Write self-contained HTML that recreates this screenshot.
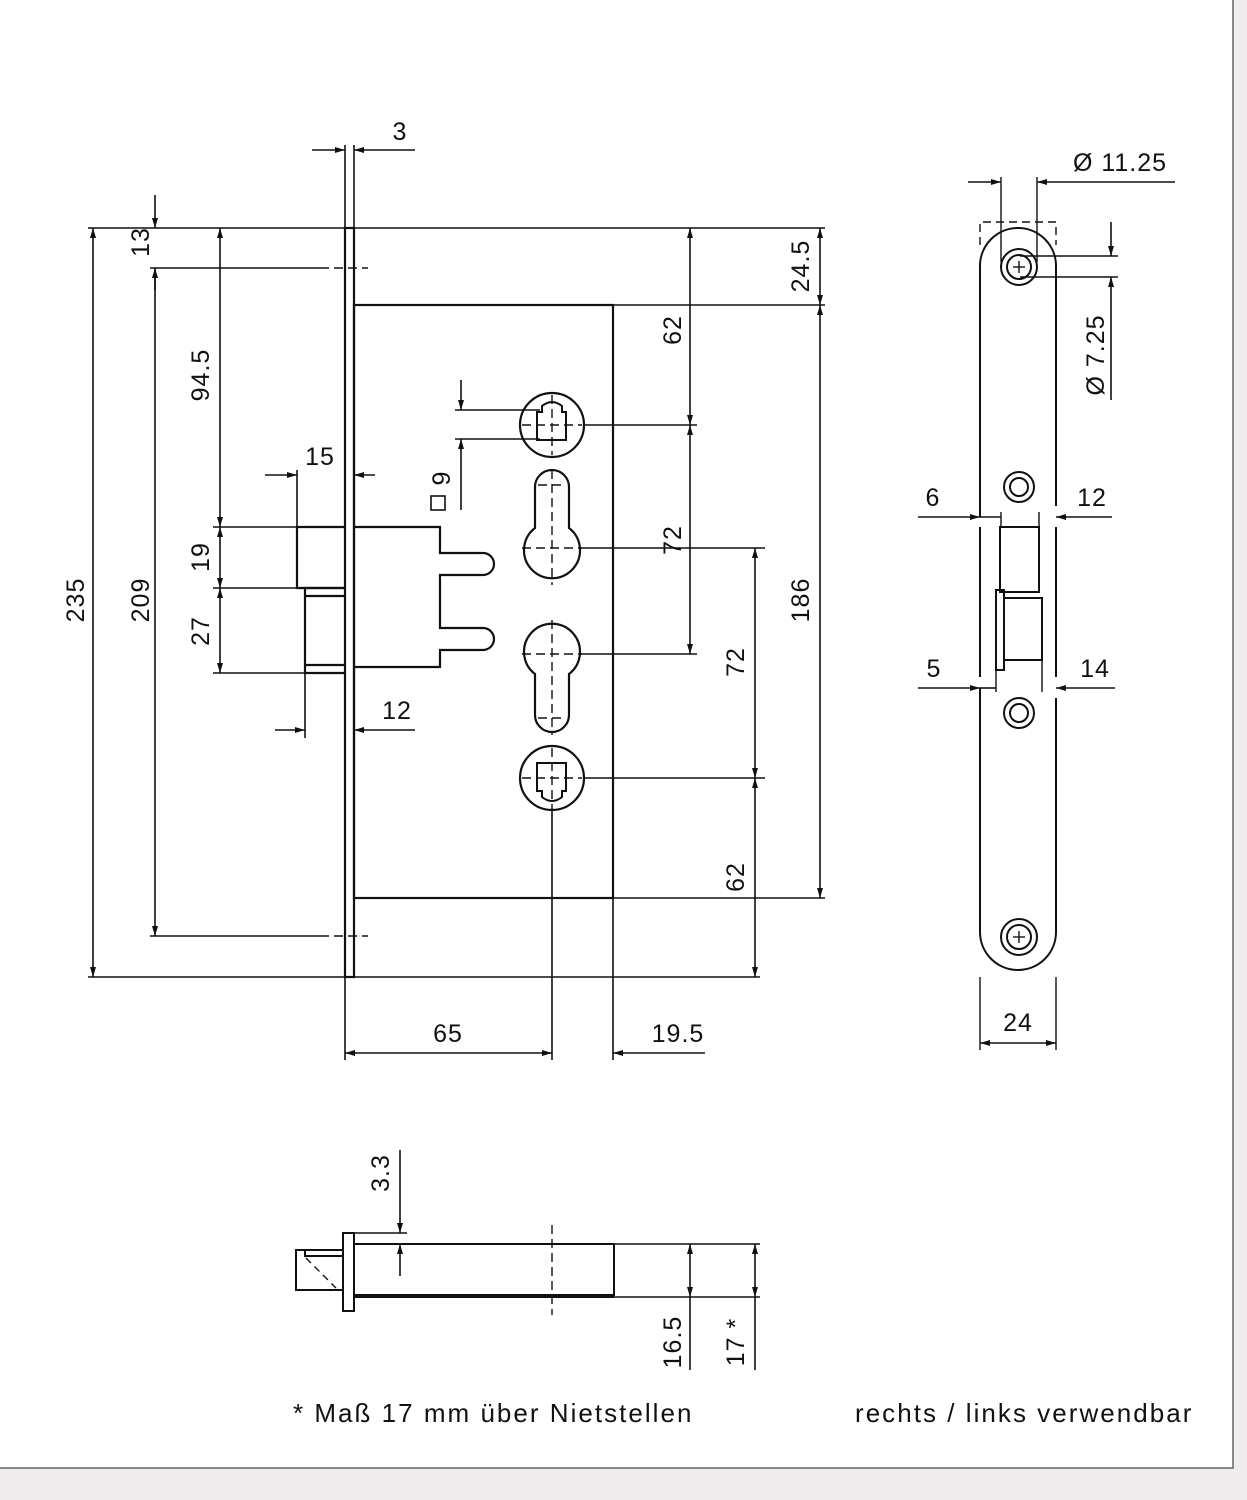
<!DOCTYPE html>
<html><head><meta charset="utf-8"><style>
html,body{margin:0;padding:0;background:#eeeced;}
svg{display:block}
text{font-family:"Liberation Sans",sans-serif;fill:#111;font-size:25px;letter-spacing:1px}
</style></head><body>
<svg width="1247" height="1500" viewBox="0 0 1247 1500" xmlns="http://www.w3.org/2000/svg">
<defs>
<marker id="a" viewBox="0 0 10 6" refX="10" refY="3" markerWidth="10" markerHeight="6" markerUnits="userSpaceOnUse" orient="auto-start-reverse"><path d="M0,0L10,3L0,6z" fill="#111"/></marker>
</defs>
<rect x="0" y="0" width="1233" height="1468" fill="#fff"/>
<path d="M1233,0V1468H0" fill="none" stroke="#888" stroke-width="2"/>
<g stroke="#111" stroke-width="1.6" fill="none">
<rect x="345" y="228" width="9" height="749" stroke-width="2.2"/>
<rect x="354" y="305" width="259" height="593" stroke-width="2.2"/>
<path d="M345,527H297V588H345" stroke-width="2.2"/>
<path d="M345,588H305V673H345M305,596H345M305,665H345" stroke-width="2.2"/>
<path d="M354,527H440V553H483A11,11 0 0 1 483,575H440V628H483A11,11 0 0 1 483,650H440V667H354" stroke-width="2.2"/>
<circle cx="552" cy="425" r="32" stroke-width="2.2"/>
<path d="M537,440V412H542V406Q552,398 562,406V412H566V440Z" stroke-width="2"/>
<circle cx="552" cy="778" r="32" stroke-width="2.2"/>
<path d="M537,763V791H542V797Q552,805 562,797V791H566V763Z" stroke-width="2"/>
<path d="M535,487V528A28,28 0 1 0 569,528V487A17,17 0 0 0 535,487Z" stroke-width="2.2"/>
<path d="M535,715V674A28,28 0 1 1 569,674V715A17,17 0 0 1 535,715Z" stroke-width="2.2"/>
<g stroke-dasharray="9,5" stroke-width="1.4">
<line x1="552" y1="395" x2="552" y2="455"/><line x1="522" y1="425" x2="582" y2="425"/>
<line x1="552" y1="470" x2="552" y2="585"/><line x1="522" y1="548" x2="582" y2="548"/><line x1="538" y1="485" x2="566" y2="485"/>
<line x1="552" y1="620" x2="552" y2="735"/><line x1="522" y1="654" x2="582" y2="654"/><line x1="538" y1="718" x2="566" y2="718"/>
<line x1="552" y1="748" x2="552" y2="808"/><line x1="522" y1="778" x2="582" y2="778"/>
<line x1="320" y1="268" x2="368" y2="268"/><line x1="320" y1="936" x2="368" y2="936"/>
</g>
<line x1="88" y1="228" x2="345" y2="228"/><line x1="354" y1="228" x2="825" y2="228"/>
<line x1="88" y1="977" x2="345" y2="977"/><line x1="354" y1="977" x2="760" y2="977"/>
<line x1="150" y1="268" x2="320" y2="268"/><line x1="150" y1="936" x2="320" y2="936"/>
<line x1="213" y1="527" x2="297" y2="527"/><line x1="213" y1="588" x2="305" y2="588"/><line x1="213" y1="673" x2="305" y2="673"/>
<line x1="613" y1="305" x2="825" y2="305"/><line x1="613" y1="898" x2="825" y2="898"/>
<line x1="584" y1="425" x2="697" y2="425"/><line x1="580" y1="548" x2="765" y2="548"/><line x1="580" y1="654" x2="697" y2="654"/><line x1="584" y1="778" x2="765" y2="778"/>
<line x1="455" y1="410" x2="540" y2="410"/><line x1="455" y1="439" x2="540" y2="439"/>
<line x1="345" y1="145" x2="345" y2="228"/><line x1="354" y1="145" x2="354" y2="228"/>
<line x1="297" y1="470" x2="297" y2="527"/><line x1="305" y1="673" x2="305" y2="738"/>
<line x1="345" y1="977" x2="345" y2="1060"/><line x1="552" y1="808" x2="552" y2="1060"/><line x1="613" y1="898" x2="613" y2="1060"/>
</g>
<g stroke="#111" stroke-width="1.6" fill="none" marker-end="url(#a)">
<line x1="93" y1="600" x2="93" y2="228"/><line x1="93" y1="600" x2="93" y2="977"/>
<line x1="155" y1="600" x2="155" y2="268"/><line x1="155" y1="600" x2="155" y2="936"/>
<line x1="155" y1="195" x2="155" y2="228"/>
<line x1="220" y1="380" x2="220" y2="228"/><line x1="220" y1="380" x2="220" y2="527"/>
<line x1="220" y1="557" x2="220" y2="527"/><line x1="220" y1="557" x2="220" y2="588"/>
<line x1="220" y1="630" x2="220" y2="588"/><line x1="220" y1="630" x2="220" y2="673"/>
<line x1="312" y1="150" x2="345" y2="150"/><line x1="415" y1="150" x2="354" y2="150"/>
<line x1="265" y1="475" x2="297" y2="475"/><line x1="375" y1="475" x2="354" y2="475"/>
<line x1="275" y1="730" x2="305" y2="730"/><line x1="415" y1="730" x2="354" y2="730"/>
<line x1="461" y1="380" x2="461" y2="410"/><line x1="461" y1="510" x2="461" y2="439"/>
<line x1="690" y1="330" x2="690" y2="228"/><line x1="690" y1="330" x2="690" y2="425"/>
<line x1="690" y1="540" x2="690" y2="425"/><line x1="690" y1="540" x2="690" y2="654"/>
<line x1="755" y1="660" x2="755" y2="548"/><line x1="755" y1="660" x2="755" y2="778"/>
<line x1="755" y1="877" x2="755" y2="778"/><line x1="755" y1="877" x2="755" y2="977"/>
<line x1="820" y1="266" x2="820" y2="228"/><line x1="820" y1="266" x2="820" y2="305"/>
<line x1="820" y1="600" x2="820" y2="305"/><line x1="820" y1="600" x2="820" y2="898"/>
<line x1="448" y1="1053" x2="345" y2="1053"/><line x1="448" y1="1053" x2="552" y2="1053"/>
<line x1="705" y1="1053" x2="613" y2="1053"/>
</g>
<line x1="155" y1="268" x2="155" y2="290" stroke="#111" stroke-width="1.6"/>
<rect x="431" y="496" width="14" height="14" fill="none" stroke="#111" stroke-width="1.6"/>
<text x="75" y="600" transform="rotate(-90 75 600)" text-anchor="middle" dy="9">235</text>
<text x="140" y="600" transform="rotate(-90 140 600)" text-anchor="middle" dy="9">209</text>
<text x="140" y="242" transform="rotate(-90 140 242)" text-anchor="middle" dy="9">13</text>
<text x="200" y="375" transform="rotate(-90 200 375)" text-anchor="middle" dy="9">94.5</text>
<text x="200" y="557" transform="rotate(-90 200 557)" text-anchor="middle" dy="9">19</text>
<text x="200" y="631" transform="rotate(-90 200 631)" text-anchor="middle" dy="9">27</text>
<text x="441" y="478" transform="rotate(-90 441 478)" text-anchor="middle" dy="9">9</text>
<text x="672" y="330" transform="rotate(-90 672 330)" text-anchor="middle" dy="9">62</text>
<text x="672" y="540" transform="rotate(-90 672 540)" text-anchor="middle" dy="9">72</text>
<text x="735" y="662" transform="rotate(-90 735 662)" text-anchor="middle" dy="9">72</text>
<text x="735" y="877" transform="rotate(-90 735 877)" text-anchor="middle" dy="9">62</text>
<text x="800" y="266" transform="rotate(-90 800 266)" text-anchor="middle" dy="9">24.5</text>
<text x="800" y="600" transform="rotate(-90 800 600)" text-anchor="middle" dy="9">186</text>
<text x="400" y="140" text-anchor="middle">3</text>
<text x="320" y="465" text-anchor="middle">15</text>
<text x="397" y="719" text-anchor="middle">12</text>
<text x="448" y="1042" text-anchor="middle">65</text>
<text x="678" y="1042" text-anchor="middle">19.5</text>

<g stroke="#111" stroke-width="2" fill="none">
<path d="M980,517V266A38,38 0 0 1 1056,266V506M1056,527V677M1056,698V932A38,38 0 0 1 980,932V688M980,677V527"/>
<path d="M980,245V222H1056V245" stroke-dasharray="8,5" stroke-width="1.4"/>
<circle cx="1019" cy="267" r="18"/><circle cx="1019" cy="267" r="12"/>
<circle cx="1019" cy="937" r="18"/><circle cx="1019" cy="937" r="12"/>
<circle cx="1019" cy="487" r="15"/><circle cx="1019" cy="487" r="9"/>
<circle cx="1019" cy="713" r="15"/><circle cx="1019" cy="713" r="9"/>
<rect x="1000" y="527" width="39" height="65"/>
<rect x="996" y="590" width="8" height="80"/><rect x="1004" y="598" width="38" height="62"/>
</g>
<g stroke="#111" stroke-width="1.4">
<line x1="1013" y1="267" x2="1025" y2="267"/><line x1="1019" y1="261" x2="1019" y2="273"/>
<line x1="1013" y1="937" x2="1025" y2="937"/><line x1="1019" y1="931" x2="1019" y2="943"/>
<line x1="1001" y1="177" x2="1001" y2="262"/><line x1="1037" y1="177" x2="1037" y2="262"/>
<line x1="1020" y1="256" x2="1118" y2="256"/><line x1="1020" y1="277" x2="1118" y2="277"/>
<line x1="980" y1="977" x2="980" y2="1050"/><line x1="1056" y1="977" x2="1056" y2="1050"/>
<line x1="1001" y1="512" x2="1001" y2="527"/><line x1="1039" y1="512" x2="1039" y2="527"/>
<line x1="996" y1="670" x2="996" y2="692"/><line x1="1042" y1="660" x2="1042" y2="692"/>
</g>
<g stroke="#111" stroke-width="1.6" fill="none" marker-end="url(#a)">
<line x1="968" y1="182" x2="1001" y2="182"/><line x1="1175" y1="182" x2="1037" y2="182"/>
<line x1="1111" y1="222" x2="1111" y2="256"/><line x1="1111" y1="400" x2="1111" y2="277"/>
<line x1="918" y1="517" x2="980" y2="517"/><line x1="1112" y1="517" x2="1056" y2="517"/>
<line x1="918" y1="688" x2="980" y2="688"/><line x1="1115" y1="688" x2="1056" y2="688"/>
<line x1="1018" y1="1043" x2="980" y2="1043"/><line x1="1018" y1="1043" x2="1056" y2="1043"/>
</g>
<line x1="980" y1="517" x2="1001" y2="517" stroke="#111" stroke-width="1.6"/>
<line x1="980" y1="688" x2="996" y2="688" stroke="#111" stroke-width="1.6"/>
<text x="1120" y="171" text-anchor="middle">Ø 11.25</text>
<text x="1095" y="355" transform="rotate(-90 1095 355)" text-anchor="middle" dy="9">Ø 7.25</text>
<text x="933" y="506" text-anchor="middle">6</text>
<text x="1092" y="506" text-anchor="middle">12</text>
<text x="934" y="677" text-anchor="middle">5</text>
<text x="1095" y="677" text-anchor="middle">14</text>
<text x="1018" y="1031" text-anchor="middle">24</text>

<g stroke="#111" stroke-width="2" fill="none">
<rect x="343" y="1233" width="11" height="78"/>
<rect x="354" y="1244" width="260" height="51"/>
<path d="M343,1250H296V1290H343M305,1250V1256H343"/>
<line x1="354" y1="1297" x2="614" y2="1297"/>
</g>
<g stroke="#111" stroke-width="1.4" fill="none">
<line x1="306" y1="1258" x2="336" y2="1288" stroke-dasharray="7,5"/>
<line x1="552" y1="1225" x2="552" y2="1315" stroke-dasharray="9,5"/>
<line x1="354" y1="1233" x2="407" y2="1233"/>
<line x1="614" y1="1244" x2="760" y2="1244"/><line x1="614" y1="1297" x2="760" y2="1297"/>
</g>
<g stroke="#111" stroke-width="1.6" fill="none" marker-end="url(#a)">
<line x1="400" y1="1150" x2="400" y2="1233"/><line x1="400" y1="1276" x2="400" y2="1244"/>
<line x1="690" y1="1270" x2="690" y2="1244"/><line x1="690" y1="1270" x2="690" y2="1297"/>
<line x1="755" y1="1270" x2="755" y2="1244"/><line x1="755" y1="1270" x2="755" y2="1297"/>
</g>
<line x1="690" y1="1297" x2="690" y2="1370" stroke="#111" stroke-width="1.6"/>
<line x1="755" y1="1297" x2="755" y2="1370" stroke="#111" stroke-width="1.6"/>
<text x="380" y="1173" transform="rotate(-90 380 1173)" text-anchor="middle" dy="9">3.3</text>
<text x="672" y="1342" transform="rotate(-90 672 1342)" text-anchor="middle" dy="9">16.5</text>
<text x="735" y="1342" transform="rotate(-90 735 1342)" text-anchor="middle" dy="9">17 *</text>
<text x="293" y="1422" style="font-size:26px;letter-spacing:1.6px" textLength="400">* Maß 17 mm über Nietstellen</text>
<text x="855" y="1422" style="font-size:26px;letter-spacing:1.6px" textLength="338">rechts / links verwendbar</text>
</svg>
</body></html>
